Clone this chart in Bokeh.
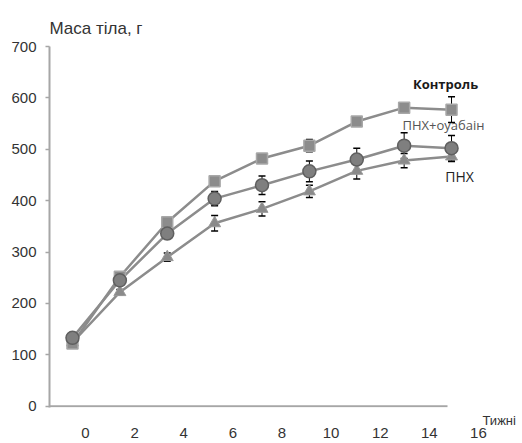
from bokeh.plotting import figure
from bokeh.models import (Range1d, LinearAxis, FixedTicker, Whisker, TeeHead,
                          ColumnDataSource, Title)
from bokeh.core.properties import value
from bokeh.embed import file_html
from bokeh.resources import INLINE

# ---- data ----
weeks = [0, 2, 4, 6, 8, 10, 12, 14, 16]
x_tick_labels = [0, 2, 4, 6, 8, 10, 12, 14, 16]
y_ticks = [0, 100, 200, 300, 400, 500, 600, 700]

control = [122, 252, 358, 438, 482, 507, 554, 581, 577]
control_err = [3, 4, 6, 8, 9, 12, 4, 4, 25]
ouabain = [133, 245, 336, 404, 430, 457, 480, 507, 502]
ouabain_err = [4, 5, 8, 14, 18, 20, 22, 25, 25]
pnh = [124, 222, 290, 356, 384, 418, 458, 478, 486]
pnh_err = [3, 5, 8, 15, 14, 12, 16, 14, 10]

series_names = ["Контроль", "ПНХ+оуабаін", "ПНХ"]
y_title = "Маса тіла, г"
x_title = "Тижні"

# ---- layout constants ----
X_START, X_END = -0.97, 17.645
LAB_START, LAB_END = -1.466, 16.49
Y_START, Y_END = -2.5, 700
AXIS_END = 15.83
FONT = "Liberation Sans"
TXT = "#333333"
AXIS_COL = "#a6a6a6"
LINE_COL = "#8c8c8c"

p = figure(width=522, height=443, output_backend="svg", toolbar_location=None,
           x_range=Range1d(X_START, X_END), y_range=Range1d(Y_START, Y_END),
           x_axis_location=None, min_border_left=49, min_border_right=32,
           min_border_top=46, min_border_bottom=36)
p.outline_line_color = None
p.xgrid.visible = False
p.ygrid.visible = False

# title above the y axis
t = Title(text=y_title, align="left", text_font=FONT, text_font_size="17px",
          text_font_style="normal", text_color=TXT, standoff=17)
p.add_layout(t, "above")

# y axis
ya = p.yaxis[0]
ya.ticker = FixedTicker(ticks=y_ticks)
ya.axis_line_color = AXIS_COL
ya.axis_line_width = 2
ya.major_tick_line_color = AXIS_COL
ya.major_tick_line_width = 1.5
ya.major_tick_in = 0
ya.major_tick_out = 4
ya.minor_tick_line_color = None
ya.major_label_standoff = 9
ya.major_label_text_font = FONT
ya.major_label_text_font_size = "15px"
ya.major_label_text_color = TXT

# "Тижні" sits just below the frame, the tick labels below it
xt = Title(text=x_title, align="left", offset=433, text_font=FONT, text_font_size="13px",
           text_font_style="normal", text_color=TXT, standoff=6)
p.add_layout(xt, "below")

p.extra_x_ranges = {"lab": Range1d(LAB_START, LAB_END)}
xa = LinearAxis(x_range_name="lab", ticker=FixedTicker(ticks=x_tick_labels))
xa.axis_line_color = None
xa.major_tick_line_color = None
xa.minor_tick_line_color = None
xa.major_tick_in = 0
xa.major_tick_out = 0
xa.major_label_standoff = -3
xa.major_label_text_font = FONT
xa.major_label_text_font_size = "15px"
xa.major_label_text_color = TXT
p.add_layout(xa, "below")

# x axis line (shorter than the frame)
p.segment(x0=[X_START], y0=[0], x1=[AXIS_END], y1=[0], line_color=AXIS_COL, line_width=2)

src = ColumnDataSource(dict(
    x=weeks,
    c=control, c_lo=[v - e for v, e in zip(control, control_err)], c_hi=[v + e for v, e in zip(control, control_err)],
    o=ouabain, o_lo=[v - e for v, e in zip(ouabain, ouabain_err)], o_hi=[v + e for v, e in zip(ouabain, ouabain_err)],
    n=pnh, n_lo=[v - e for v, e in zip(pnh, pnh_err)], n_hi=[v + e for v, e in zip(pnh, pnh_err)],
))

for lo, hi in (("c_lo", "c_hi"), ("o_lo", "o_hi"), ("n_lo", "n_hi")):
    w = Whisker(source=src, base="x", lower=lo, upper=hi, line_color="black", line_width=1,
                upper_head=TeeHead(size=7, line_color="black", line_width=1.5),
                lower_head=TeeHead(size=7, line_color="black", line_width=1.5),
                level="underlay")
    p.add_layout(w)

# lines + markers
p.line("x", "n", source=src, line_color=LINE_COL, line_width=2.5)
p.line("x", "c", source=src, line_color=LINE_COL, line_width=2.5)
p.line("x", "o", source=src, line_color=LINE_COL, line_width=2.5)

p.scatter("x", "n", source=src, marker="triangle", size=12, fill_color="#8a8a8a", line_color="#9a9a9a")
p.scatter("x", "c", source=src, marker="square", size=11, fill_color="#8c8c8c", line_color="#a8a8a8", line_width=1.5)
p.scatter("x", "o", source=src, marker="circle", size=13, fill_color="#7f7f7f", line_color="#5f5f5f", line_width=1.5)

# series labels anchored to last points
p.text(x=[weeks[-1]], y=[control[-1]], text=[series_names[0]], x_offset=-6, y_offset=-26,
       text_align="center", text_baseline="middle", text_font=value("Open Sans"),
       text_font_size="13px", text_font_style="bold", text_color="#1a1a1a")
p.text(x=[weeks[-1]], y=[ouabain[-1]], text=[series_names[1]], x_offset=-8, y_offset=-23,
       text_align="center", text_baseline="middle", text_font=value("Open Sans"),
       text_font_size="13px", text_color="#555555")
p.text(x=[weeks[-1]], y=[pnh[-1]], text=[series_names[2]], x_offset=8, y_offset=20,
       text_align="center", text_baseline="middle", text_font=value("Open Sans"),
       text_font_size="14px", text_color="#222222")

open("out.html", "w").write(file_html(p, INLINE))
